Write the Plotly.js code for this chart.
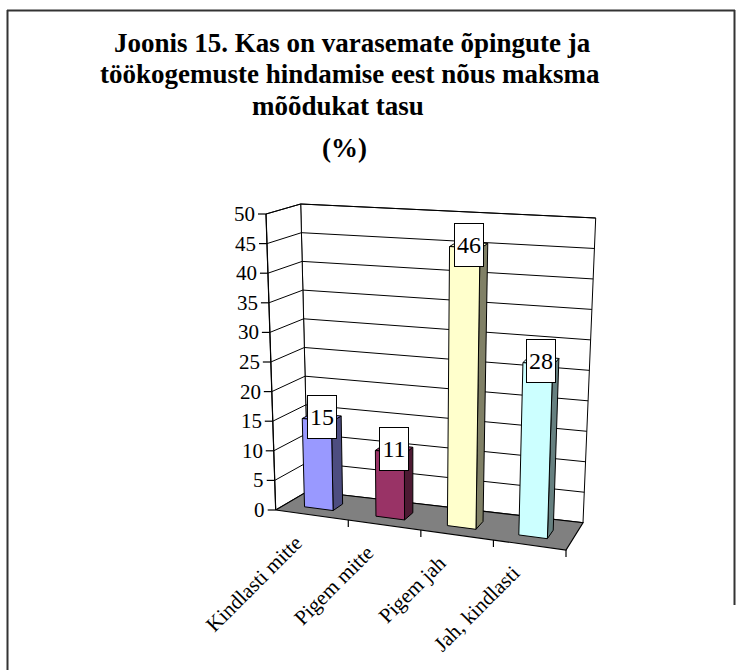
<!DOCTYPE html>
<html>
<head>
<meta charset="utf-8">
<script src="https://cdn.plot.ly/plotly-3.0.1.min.js"></script>
<style>html,body{margin:0;padding:0;background:#fff;}#chart{width:743px;height:670px;}</style>
</head>
<body>
<div id="chart"></div>
<script>
// ---- data ----
const categories = ['Kindlasti mitte', 'Pigem mitte', 'Pigem jah', 'Jah, kindlasti'];
const values = [15, 11, 46, 28];
const yTickValues = [0, 5, 10, 15, 20, 25, 30, 35, 40, 45, 50];
const yTickLabels = ['0', '5', '10', '15', '20', '25', '30', '35', '40', '45', '50'];
const titleLines = ['Joonis 15. Kas on varasemate õpingute ja',
                    'töökogemuste hindamise eest nõus maksma',
                    'mõõdukat tasu', '(%)'];

// ---- styles ----
const frontColors = ['#9999FF', '#993366', '#FFFFCC', '#CCFFFF'];
const sideColors  = ['#4D4D80', '#4D1A33', '#808066', '#668080'];
const FONT = 'Liberation Serif';

// ---- 3D projection (box corners in pixel space) ----
const yMax = 50;
const C = {
  FLB: [275.7, 510], FRB: [566, 550], FLT: [266, 214], FRT: [576.3, 236.3],
  BLB: [308, 491],   BRB: [583, 522.7], BLT: [300.7, 204], BRT: [595.7, 218]
};
function lerp(a, b, t) { return [a[0] + (b[0] - a[0]) * t, a[1] + (b[1] - a[1]) * t]; }
function P(u, val, d) {
  const v = val / yMax;
  const fb = lerp(C.FLB, C.FRB, u), ft = lerp(C.FLT, C.FRT, u);
  const bb = lerp(C.BLB, C.BRB, u), bt = lerp(C.BLT, C.BRT, u);
  const f = lerp(fb, ft, v), b = lerp(bb, bt, v);
  return lerp(f, b, d);
}
const n = categories.length;
const BAR_HALF = 0.05, SHIFT = -0.008, D0 = 0.3, D1 = 0.62, DMID = 0.46;

const traces = [];
function poly(pts, fill, lineColor, lw) {
  const x = pts.map(p => p ? p[0] : null), y = pts.map(p => p ? p[1] : null);
  traces.push({
    type: 'scatter', mode: 'lines', x: x, y: y,
    fill: fill ? 'toself' : 'none', fillcolor: fill || undefined,
    line: { color: lineColor || '#000', width: lw || 1 },
    hoverinfo: 'skip', showlegend: false
  });
}

// walls
poly([P(0, 0, 1), P(1, 0, 1), P(1, yMax, 1), P(0, yMax, 1), P(0, 0, 1)], '#FFFFFF');
poly([P(0, 0, 0), P(0, 0, 1), P(0, yMax, 1), P(0, yMax, 0), P(0, 0, 0)], '#FFFFFF');
// gridlines
const grid = [];
yTickValues.forEach(v => { if (v > 0) { grid.push(P(0, v, 0), P(0, v, 1), P(1, v, 1), null); } });
poly(grid, null, '#000', 1);
// floor
poly([P(0, 0, 0), P(1, 0, 0), P(1, 0, 1), P(0, 0, 1), P(0, 0, 0)], '#808080', '#000', 1.2);
// value axis line + ticks
const axisPts = [P(0, 0, 0), P(0, yMax, 0), null];
yTickValues.forEach(v => { const p = P(0, v, 0); axisPts.push([p[0] - 8, p[1]], p, null); });
// category ticks
for (let i = 1; i <= n; i++) { const p = P(i / n, 0, 0); axisPts.push(p, [p[0], p[1] + 7], null); }
poly(axisPts, null, '#000', 1.2);

// bars
values.forEach((val, i) => {
  const c = (i + 0.5) / n + SHIFT, uL = c - BAR_HALF, uR = c + BAR_HALF;
  poly([P(uR, 0, D0), P(uR, 0, D1), P(uR, val, D1), P(uR, val, D0), P(uR, 0, D0)], sideColors[i]);
  poly([P(uL, val, D0), P(uR, val, D0), P(uR, val, D1), P(uL, val, D1), P(uL, val, D0)], frontColors[i]);
  poly([P(uL, 0, D0), P(uR, 0, D0), P(uR, val, D0), P(uL, val, D0), P(uL, 0, D0)], frontColors[i]);
});

const annotations = [];
// data labels
values.forEach((val, i) => {
  const c = (i + 0.5) / n + SHIFT;
  const p = P(c, val, DMID);
  annotations.push({
    x: p[0], y: p[1], xref: 'x', yref: 'y', text: String(val), showarrow: false,
    xanchor: 'center', yanchor: 'middle', width: 28, height: 42,
    bgcolor: '#FFFFFF', bordercolor: '#000', borderwidth: 1, borderpad: 0,
    font: { family: FONT, size: 24, color: '#000' }
  });
});
// value tick labels
yTickValues.forEach((v, i) => {
  const p = P(0, v, 0);
  annotations.push({
    x: p[0] - 9, y: p[1], xref: 'x', yref: 'y', text: yTickLabels[i], showarrow: false,
    xanchor: 'right', yanchor: 'middle',
    font: { family: FONT, size: 21, color: '#000' }
  });
});
// category labels
categories.forEach((cat, i) => {
  const p = P((i + 0.5) / n, 0, 0);
  annotations.push({
    x: p[0] - 3, y: p[1] + 13, xref: 'x', yref: 'y', text: cat, showarrow: false,
    textangle: -45, xanchor: 'right', yanchor: 'top',
    font: { family: FONT, size: 21, color: '#000' }
  });
});
// title lines
const titleX = [352, 350, 338, 344];
const titleY = [43, 74, 106, 148];
titleLines.forEach((t, i) => {
  annotations.push({
    x: titleX[i], xref: 'x', y: titleY[i], yref: 'y', text: '<b>' + t + '</b>', showarrow: false,
    xanchor: 'center', yanchor: 'middle',
    font: { family: FONT, size: 27, color: '#000' }
  });
});

const layout = {
  width: 743, height: 670,
  margin: { l: 0, r: 0, t: 0, b: 0 },
  paper_bgcolor: '#FFFFFF', plot_bgcolor: '#FFFFFF',
  font: { family: FONT },
  xaxis: { range: [0, 743], visible: false, fixedrange: true },
  yaxis: { range: [670, 0], visible: false, fixedrange: true },
  showlegend: false,
  annotations: annotations,
  shapes: [
    { type: 'line', xref: 'x', yref: 'y', x0: 7.5, x1: 7.5, y0: 10, y1: 670, line: { color: '#333', width: 2 } },
    { type: 'line', xref: 'x', yref: 'y', x0: 7, x1: 735, y0: 10.5, y1: 10.5, line: { color: '#333', width: 2 } },
    { type: 'line', xref: 'x', yref: 'y', x0: 734.5, x1: 734.5, y0: 10, y1: 605, line: { color: '#333', width: 2 } }
  ]
};

Plotly.newPlot('chart', traces, layout, { staticPlot: true, displayModeBar: false });
</script>
</body>
</html>
